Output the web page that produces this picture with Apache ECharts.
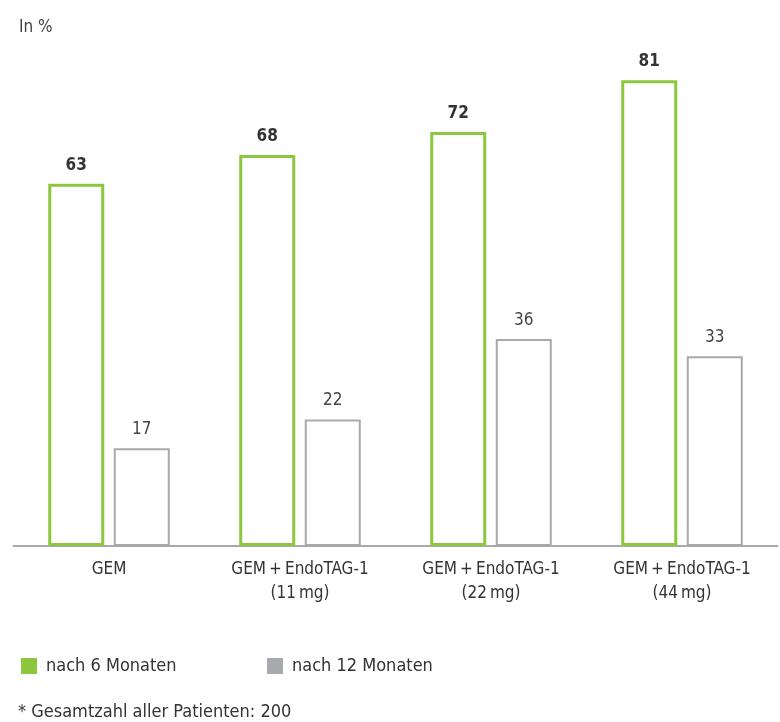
<!DOCTYPE html>
<html>
<head>
<meta charset="utf-8">
<script src="https://cdn.jsdelivr.net/npm/echarts@6/dist/echarts.min.js"></script>
<style>
  html, body { margin: 0; padding: 0; background: #fff; }
  #chart { width: 780px; height: 722px; }
</style>
</head>
<body>
<div id="chart"></div>
<script>
// Daten (in %)
const categories = ["GEM", "GEM\u2009+\u2009EndoTAG-1\n(11\u2009mg)", "GEM\u2009+\u2009EndoTAG-1\n(22\u2009mg)", "GEM\u2009+\u2009EndoTAG-1\n(44\u2009mg)"];
const after6 = [63, 68, 72, 81];
const after12 = [17, 22, 36, 33];
const seriesNames = ["nach 6 Monaten", "nach 12 Monaten"];

const green = "#8dc63f";
const grey = "#a7a9ac";
const font = "'Liberation Sans Narrow', 'DejaVu Sans Condensed', sans-serif";

const chart = echarts.init(document.getElementById("chart"));

chart.setOption({
  animation: false,
  textStyle: { fontFamily: font },
  title: {
    text: "In %",
    left: 14,
    top: 14,
    textStyle: { fontFamily: font, fontSize: 17, fontWeight: "normal", color: "#444" }
  },
  grid: { left: 13.5, right: 2.5, top: 28.5, bottom: 176 },
  legend: [
    {
      left: 16, top: 652, itemWidth: 16, itemHeight: 16, itemGap: 0,
      textStyle: { fontFamily: font, fontSize: 18, color: "#333", padding: [0, 0, 0, 4] },
      data: [{ name: seriesNames[0], icon: "rect", itemStyle: { color: green, borderWidth: 0 } }]
    },
    {
      left: 262, top: 652, itemWidth: 16, itemHeight: 16, itemGap: 0,
      textStyle: { fontFamily: font, fontSize: 18, color: "#333", padding: [0, 0, 0, 4] },
      data: [{ name: seriesNames[1], icon: "rect", itemStyle: { color: grey, borderWidth: 0 } }]
    }
  ],
  xAxis: {
    type: "category",
    data: categories,
    axisLine: { lineStyle: { color: grey, width: 2 } },
    axisTick: { show: false },
    axisLabel: { fontFamily: font, fontSize: 17, color: "#333", lineHeight: 24, margin: 12 }
  },
  yAxis: {
    type: "value",
    min: 0,
    max: 90,
    show: false
  },
  series: [
    {
      name: seriesNames[0],
      type: "bar",
      data: after6,
      barWidth: 56,
      barGap: "17%",
      itemStyle: { color: "#fff", borderColor: green, borderWidth: 3 },
      label: {
        show: true, position: "top", distance: 10,
        fontFamily: font, fontSize: 17, fontWeight: "bold", color: "#333"
      }
    },
    {
      name: seriesNames[1],
      type: "bar",
      data: after12,
      barWidth: 56,
      itemStyle: { color: "#fff", borderColor: grey, borderWidth: 2 },
      label: {
        show: true, position: "top", distance: 10,
        fontFamily: font, fontSize: 17, color: "#444"
      }
    }
  ],
  graphic: [
    {
      type: "text",
      left: 18,
      top: 703,
      style: { text: "* Gesamtzahl aller Patienten: 200", font: "18px " + font, fill: "#333" }
    }
  ]
});
</script>
</body>
</html>
